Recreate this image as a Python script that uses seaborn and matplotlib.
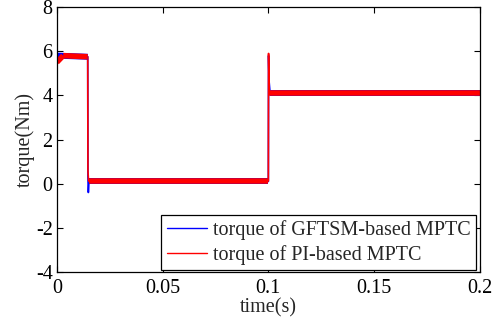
import matplotlib
matplotlib.use("Agg")
import matplotlib.pyplot as plt
import seaborn as sns
import pandas as pd
import numpy as np

# ---- data ----
t_gftsm = [0.0, 0.0, 0.0005, 0.0146, 0.0147, 0.0149, 0.0152, 0.1000, 0.1001, 0.1003, 0.1008, 0.2]
tq_gftsm = [0.0, 5.6, 5.8, 5.75, 0.3, -0.4, 0.1, 0.1, 5.8, 4.7, 4.12, 4.12]

t_pi = [0.0, 0.0, 0.003, 0.0146, 0.0147, 0.0150, 0.1000, 0.1001, 0.1004, 0.2]
tq_pi = [0.0, 5.5, 5.8, 5.75, 0.6, 0.12, 0.12, 5.9, 4.12, 4.12]

labels = ["torque of GFTSM-based MPTC", "torque of PI-based MPTC"]
x_ticks = [0, 0.05, 0.1, 0.15, 0.2]
x_ticklabels = ["0", "0.05", "0.1", "0.15", "0.2"]
y_ticks = [-4, -2, 0, 2, 4, 6, 8]

sns.set_style("ticks")
plt.rcParams["font.family"] = ["Liberation Serif", "DejaVu Serif"]
plt.rcParams["font.size"] = 14.5
plt.rcParams["axes.unicode_minus"] = False

df = pd.concat([
    pd.DataFrame({"t": t_gftsm, "tq": tq_gftsm, "s": labels[0]}),
    pd.DataFrame({"t": t_pi, "tq": tq_pi, "s": labels[1]}),
], ignore_index=True)
palette = {labels[0]: "#0000ff", labels[1]: "#ff0000"}

fig = plt.figure(figsize=(5.03, 3.23), dpi=100)
ax = fig.add_axes([0.113, 0.158, 0.841, 0.820])

sns.lineplot(data=df, x="t", y="tq", hue="s", palette=palette, sort=False,
             estimator=None, lw=1.2, ax=ax, legend=True)

# thick overlay on the steady plateaus (noise band look)
for lab, lw in [(labels[0], 4.3), (labels[1], 4.0)]:
    sub = df[df.s == lab].reset_index(drop=True)
    for i in range(len(sub) - 1):
        if sub.t[i + 1] - sub.t[i] > 0.002:
            seg = sub.iloc[i:i + 2]
            sns.lineplot(data=seg, x="t", y="tq", color=palette[lab], lw=lw,
                         sort=False, estimator=None, ax=ax, legend=False,
                         solid_capstyle="butt")

ax.set_xlim(0, 0.2)
ax.set_ylim(-4, 8)
ax.set_xticks(x_ticks)
ax.set_xticklabels(x_ticklabels)
ax.set_yticks(y_ticks)
ax.set_xlabel("time(s)", labelpad=0)
ax.set_ylabel("torque(Nm)", labelpad=1)
ax.tick_params(direction="in", top=True, right=True, length=4, width=0.8,
               labelsize=14.5, colors="black")
ax.tick_params(axis="x", pad=5)
ax.tick_params(axis="y", pad=3)
for sp in ax.spines.values():
    sp.set_visible(True)
    sp.set_linewidth(0.9)
    sp.set_color("black")

leg = ax.legend(loc="lower right", bbox_to_anchor=(0.99, 0.008),
                borderaxespad=0, frameon=True, fancybox=False,
                edgecolor="black", framealpha=1, fontsize=14.5,
                handlelength=2.0, handletextpad=0.3, labelspacing=0.25,
                borderpad=0.25)
leg.get_frame().set_linewidth(0.9)
for h in leg.get_lines():
    h.set_linewidth(1.0)

fig.savefig("out.png", dpi=100)
